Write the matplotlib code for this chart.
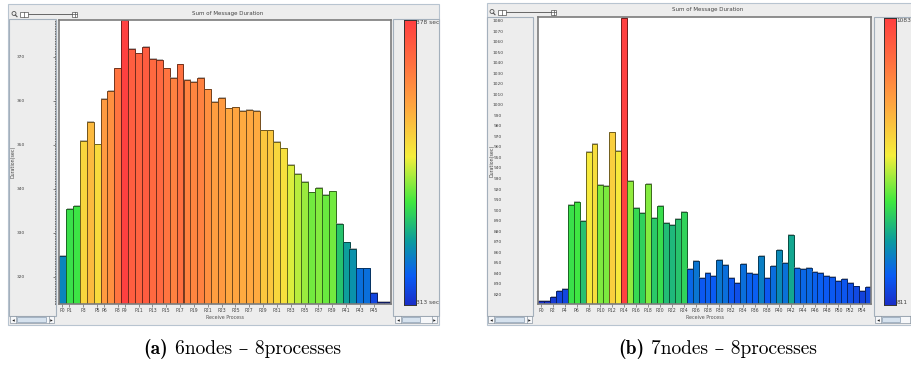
import matplotlib
matplotlib.use("Agg")
import matplotlib.pyplot as plt
import matplotlib.patheffects as pe
from matplotlib.colors import LinearSegmentedColormap, Normalize
from matplotlib.patches import Rectangle, Circle

W, H = 911, 365

# (a) 6 nodes - 8 processes : sum of message duration per receive process
dur_a = [324.8, 335.5, 336.1, 350.9, 355.3, 350.1, 360.5, 362.3, 367.4, 378.3,
         371.9, 370.8, 372.3, 369.6, 369.4, 367.4, 365.2, 368.3, 364.8, 364.4,
         365.2, 362.6, 359.8, 360.7, 358.3, 358.5, 357.7, 358.0, 357.7, 353.3,
         353.3, 350.7, 349.2, 345.4, 343.3, 341.6, 339.2, 340.2, 338.7, 339.4,
         332.1, 327.8, 326.4, 321.9, 321.9, 316.4, 314.2, 314.2]
# (b) 7 nodes - 8 processes
dur_b = [813.7, 813.7, 817.5, 823.8, 825.1, 905.1, 907.9, 890.2, 955.6, 963.5,
         924.1, 923.2, 974.3, 957.1, 1083.0, 927.9, 902.2, 897.5, 925.1, 893.3,
         904.1, 887.9, 886.0, 891.7, 898.7, 844.4, 851.7, 835.9, 841.0, 837.8,
         852.7, 848.3, 835.9, 830.8, 849.2, 841.0, 840.0, 857.1, 835.9, 847.6,
         862.2, 850.2, 877.1, 845.4, 844.8, 845.4, 841.6, 840.3, 837.5, 836.8,
         833.0, 834.6, 831.1, 827.9, 823.5, 827.6]

xlabels_a = ["P0", "P1", "P3", "P5", "P6", "P8", "P9"] + ["P%d" % i for i in range(11, 46, 2)]
xlabels_b = ["P%d" % i for i in range(0, 55, 2)]
yticks_a = list(range(320, 371, 10))
yticks_b = list(range(820, 1081, 10))
scale_a = (313, 378)
scale_b = (811, 1083)
clabels_a = ("378 sec", "313 sec")
clabels_b = ("1083", "811")
ylim_a = (313.8, 378.4)
ylim_b = (811.1, 1084.1)
captions = [("(a)", "6nodes \u2013 8processes"), ("(b)", "7nodes \u2013 8processes")]

cmap = LinearSegmentedColormap.from_list("dur", [
    (0.0, "#1a2fc8"), (0.1, "#0a5cf5"), (0.22, "#0a9aa0"), (0.36, "#40e840"),
    (0.52, "#f5ef3c"), (0.7, "#ffa640"), (0.85, "#ff7040"), (1.0, "#ff4040")])

TXT = "#444444"
PANEL = "#ededed"
BORDER = "#a4b0bc"


def px(x0, y0, x1, y1):
    return [x0 / W, 1 - y1 / H, (x1 - x0) / W, (y1 - y0) / H]


fig = plt.figure(figsize=(W / 100, H / 100), dpi=100, facecolor="white")
bg = fig.add_axes([0, 0, 1, 1])
bg.set_xlim(0, W)
bg.set_ylim(H, 0)
bg.axis("off")


def rect(x0, y0, x1, y1, fc, ec, lw=0.6):
    bg.add_patch(Rectangle((x0, y0), x1 - x0, y1 - y0, fc=fc, ec=ec, lw=lw))


def scrollbar(x0, y0, x1, y1, t0, t1):
    rect(x0, y0, x1, y1, "#f6f7f9", "#8a96a2", 0.5)
    ym = (y0 + y1) / 2
    bg.plot([x0 + 5.5, x0 + 5.5], [y0, y1], color="#8a96a2", lw=0.5)
    bg.plot([x1 - 5.5, x1 - 5.5], [y0, y1], color="#8a96a2", lw=0.5)
    bg.plot([x0 + 2.7], [ym], marker="<", ms=1.8, color="#222", mew=0)
    bg.plot([x1 - 2.7], [ym], marker=">", ms=1.8, color="#222", mew=0)
    rect(t0, y0 + 0.8, t1, y1 - 0.8, "#d6e2ee", "#8a9cb0", 0.5)


def draw(g, vals, xlabels, yticks, scale, clabels, ylim, dotted):
    # window frame and panels
    rect(*g["frame"], PANEL, "#b8c4d0", 0.8)
    rect(*g["ypanel"], PANEL, BORDER, 0.8)
    rect(*g["cpanel"], PANEL, BORDER, 0.8)
    tx, ty = g["title"]
    bg.text(tx, ty, "Sum of Message Duration", fontsize=4, color=TXT,
            ha="center", va="center")
    ix, iy = g["icon"]
    bg.add_patch(Circle((ix, iy - 0.5), 2.0, fill=False, ec="#555", lw=0.6))
    bg.plot([ix + 1.3, ix + 3], [iy + 1, iy + 2.7], color="#555", lw=0.8)
    s0, s1, sy = g["slider"]
    bg.plot([s0 + 8, s1 - 5], [sy, sy], color="#666", lw=0.7)
    rect(s0, sy - 2.5, s0 + 8, sy + 2.5, "white", "#555", 0.5)
    bg.plot([s0 + 4, s0 + 4], [sy - 2.5, sy + 2.5], color="#555", lw=0.5)
    rect(s1 - 5, sy - 2.5, s1, sy + 2.5, "white", "#555", 0.5)
    bg.plot([s1 - 5, s1], [sy, sy], color="#555", lw=0.5)
    bg.plot([s1 - 2.5, s1 - 2.5], [sy - 2.5, sy + 2.5], color="#555", lw=0.5)
    for sb in g["scrolls"]:
        scrollbar(*sb)

    # bar chart
    ax = fig.add_axes(px(*g["plot"]))
    norm = Normalize(*scale)
    xs = list(range(len(vals)))
    fills = cmap(norm(vals))
    edges = [(r * 0.45, gg * 0.45, b * 0.45) for r, gg, b, _ in fills]
    bars = ax.bar(xs, vals, width=1.0, color=fills, edgecolor=edges, linewidth=0.7)
    for b in bars:
        b.set_path_effects([pe.withSimplePatchShadow(offset=(0.5, 0.6),
                                                     shadow_rgbFace="0.55", alpha=0.6)])
    ax.set_xlim(-0.5, len(vals) - 0.5)
    ax.set_ylim(*ylim)
    ax.set_xticks([int(l[1:]) for l in xlabels])
    ax.set_xticklabels(xlabels, fontsize=3.3, color=TXT)
    ax.tick_params(axis="x", length=2, width=0.5, pad=1.2, color="#666")
    ax.set_yticks([])
    ax.set_xlabel("Receive Process", fontsize=3.4, color="#555", labelpad=1)
    for sp in ax.spines.values():
        sp.set_color("#7c7c7c")
        sp.set_linewidth(1.2)

    # y axis panel
    x0, y0, x1, y1 = g["plot"]
    p0, p1 = g["yaxis"]
    yax = fig.add_axes(px(p0, y0, p1, y1))
    yax.set_ylim(*ylim)
    yax.set_xlim(0, 1)
    yax.patch.set_alpha(0)
    for sp in yax.spines.values():
        sp.set_visible(False)
    yax.set_xticks([])
    yax.set_yticks(yticks)
    yax.tick_params(axis="y", left=False, right=dotted, direction="in",
                    length=1.5, width=0.5, color="#555", labelleft=False)
    if dotted:
        yax.spines["right"].set_visible(True)
        yax.spines["right"].set_linestyle((0, (1, 2)))
        yax.spines["right"].set_linewidth(0.6)
        yax.spines["right"].set_color("#555")
    lx = g["ylx"]
    for v in yticks:
        yax.text(lx, v, str(v), fontsize=3.2, color=TXT, ha="center", va="center")
    yax.text(g["ylabx"], g["ylaby"], "Duration(sec)", fontsize=3.4, color=TXT,
             rotation=90, ha="center", va="center", transform=yax.transAxes)

    # colour legend
    cax = fig.add_axes(px(*g["cbar"]))
    grad = [[v / 255] for v in range(256)]
    cax.imshow(grad, aspect="auto", cmap=cmap, origin="lower")
    cax.set_xticks([])
    cax.set_yticks([])
    for sp in cax.spines.values():
        sp.set_color("#333")
        sp.set_linewidth(0.7)
    bx = g["cbar"]
    cp = g["cpanel"]
    cl = fig.add_axes(px(bx[2], cp[1], cp[2], cp[3]))
    cl.axis("off")
    ny = cp[3] - cp[1]
    cl.text(0.02, 1 - (bx[1] + 3 - cp[1]) / ny, clabels[0],
            fontsize=4.2, color=TXT, va="center", ha="left", clip_on=True,
            transform=cl.transAxes)
    cl.text(0.02, 1 - (bx[3] - 2 - cp[1]) / ny, clabels[1],
            fontsize=4.2, color=TXT, va="center", ha="left", clip_on=True,
            transform=cl.transAxes)


geo_a = dict(frame=(8, 4, 439, 325), ypanel=(9, 19, 56, 316), cpanel=(393, 19, 439, 316),
             title=(228, 13), icon=(14, 14), slider=(20, 77, 14),
             scrolls=[(10, 316, 54, 323, 17, 46), (395, 316, 437, 323, 402, 420)],
             plot=(59, 20, 391, 304), yaxis=(9, 54.5), ylx=0.27, ylabx=0.09, ylaby=0.5,
             cbar=(404, 20, 416, 305))
geo_b = dict(frame=(487, 3, 915, 325), ypanel=(487, 17, 533, 316), cpanel=(874, 17, 915, 316),
             title=(708, 10), icon=(492, 12), slider=(498, 556, 12),
             scrolls=[(488, 316, 532, 323, 495, 524), (875, 316, 915, 323, 882, 900)],
             plot=(538, 17, 871, 304), yaxis=(487, 533), ylx=0.24, ylabx=0.1, ylaby=0.5,
             cbar=(884, 18, 896, 305))

draw(geo_a, dur_a, xlabels_a, yticks_a, scale_a, clabels_a, ylim_a, True)
draw(geo_b, dur_b, xlabels_b, yticks_b, scale_b, clabels_b, ylim_b, False)

# sub-figure captions
for (tag, text), cx in zip(captions, [236, 712]):
    bg.text(cx - 68, 349, tag, fontsize=14, family=["cmb10", "DejaVu Serif"],
            ha="right", va="center")
    bg.text(cx - 61, 349, text, fontsize=14, family=["cmr10", "DejaVu Serif"],
            ha="left", va="center")

fig.savefig("out.png", dpi=100, facecolor="white")
